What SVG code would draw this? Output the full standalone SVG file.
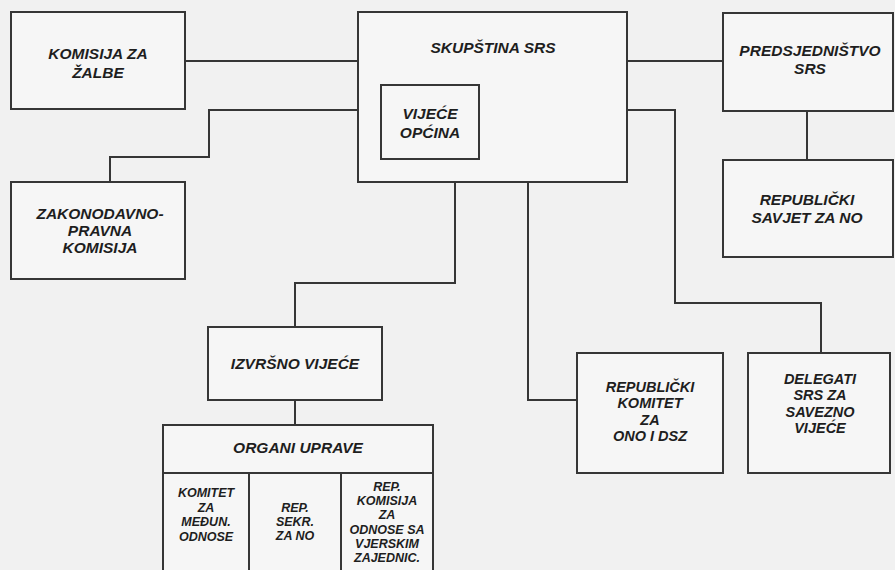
<svg xmlns="http://www.w3.org/2000/svg" width="895" height="570" viewBox="0 0 895 570">
<style>
.bg{fill:#f1f1f1}
.box{fill:#f6f6f6;stroke:#363636;stroke-width:2}
.ln{fill:none;stroke:#363636;stroke-width:2}
text{font-family:"Liberation Sans",Arial,sans-serif;font-weight:bold;font-style:italic;fill:#1e1e1e;text-anchor:middle}
.t{font-size:15.5px}
.m{font-size:14.5px}
.s{font-size:12.5px}
</style>
<rect class="bg" x="0" y="0" width="895" height="570"/>
<g id="connectors">
<path class="ln" d="M185,61 H358"/>
<path class="ln" d="M358,110 H209 V157 H110 V182"/>
<path class="ln" d="M627,61 H723"/>
<path class="ln" d="M807,111 V160"/>
<path class="ln" d="M455,182 V283 H295 V327"/>
<path class="ln" d="M528,182 V400 H577"/>
<path class="ln" d="M627,110 H675 V303 H821 V353"/>
<path class="ln" d="M295,400 V425"/>
</g>
<g id="komisija-zalbe">
<rect class="box" x="11" y="12" width="174" height="97"/>
<text class="t" x="98" y="59">KOMISIJA ZA</text>
<text class="t" x="98" y="78">ŽALBE</text>
</g>
<g id="skupstina">
<rect class="box" x="358" y="12" width="269" height="170"/>
<text class="t" x="493" y="53">SKUPŠTINA SRS</text>
</g>
<g id="vijece-opcina">
<rect class="box" x="381" y="85" width="98" height="74"/>
<text class="t" x="430" y="119">VIJEĆE</text>
<text class="t" x="430" y="138">OPĆINA</text>
</g>
<g id="predsjednistvo">
<rect class="box" x="723" y="13" width="170" height="98"/>
<text class="t" x="810" y="56">PREDSJEDNIŠTVO</text>
<text class="t" x="810" y="74">SRS</text>
</g>
<g id="savjet-no">
<rect class="box" x="723" y="160" width="170" height="97"/>
<text class="t" x="807" y="205">REPUBLIČKI</text>
<text class="t" x="807" y="223">SAVJET ZA NO</text>
</g>
<g id="zakonodavno">
<rect class="box" x="11" y="182" width="174" height="97"/>
<text class="t" x="100" y="219">ZAKONODAVNO-</text>
<text class="t" x="100" y="236">PRAVNA</text>
<text class="t" x="100" y="253">KOMISIJA</text>
</g>
<g id="izvrsno-vijece">
<rect class="box" x="208" y="327" width="174" height="73"/>
<text class="t" x="295" y="369">IZVRŠNO  VIJEĆE</text>
</g>
<g id="organi-uprave">
<rect class="box" x="163" y="425" width="270" height="150"/>
<path class="ln" d="M163,473 H433 M249,473 V575 M341,473 V575"/>
<text class="t" x="298" y="453">ORGANI UPRAVE</text>
<text class="s" x="206" y="497">KOMITET</text>
<text class="s" x="206" y="511.5">ZA</text>
<text class="s" x="206" y="526">MEĐUN.</text>
<text class="s" x="206" y="540.5">ODNOSE</text>
<text class="s" x="295" y="511.5">REP.</text>
<text class="s" x="295" y="525.5">SEKR.</text>
<text class="s" x="295" y="539.5">ZA  NO</text>
<text class="s" x="387" y="491">REP.</text>
<text class="s" x="387" y="505.2">KOMISIJA</text>
<text class="s" x="387" y="519.4">ZA</text>
<text class="s" x="387" y="533.6">ODNOSE SA</text>
<text class="s" x="387" y="547.8">VJERSKIM</text>
<text class="s" x="387" y="562">ZAJEDNIC.</text>
</g>
<g id="republicki-komitet">
<rect class="box" x="577" y="353" width="146" height="120"/>
<text class="m" x="650" y="392">REPUBLIČKI</text>
<text class="m" x="650" y="408.3">KOMITET</text>
<text class="m" x="650" y="424.6">ZA</text>
<text class="m" x="650" y="441">ONO I  DSZ</text>
</g>
<g id="delegati">
<rect class="box" x="748" y="353" width="142" height="120"/>
<text class="m" x="820" y="383.5">DELEGATI</text>
<text class="m" x="820" y="400">SRS ZA</text>
<text class="m" x="820" y="416.5">SAVEZNO</text>
<text class="m" x="820" y="433">VIJEĆE</text>
</g>
</svg>
